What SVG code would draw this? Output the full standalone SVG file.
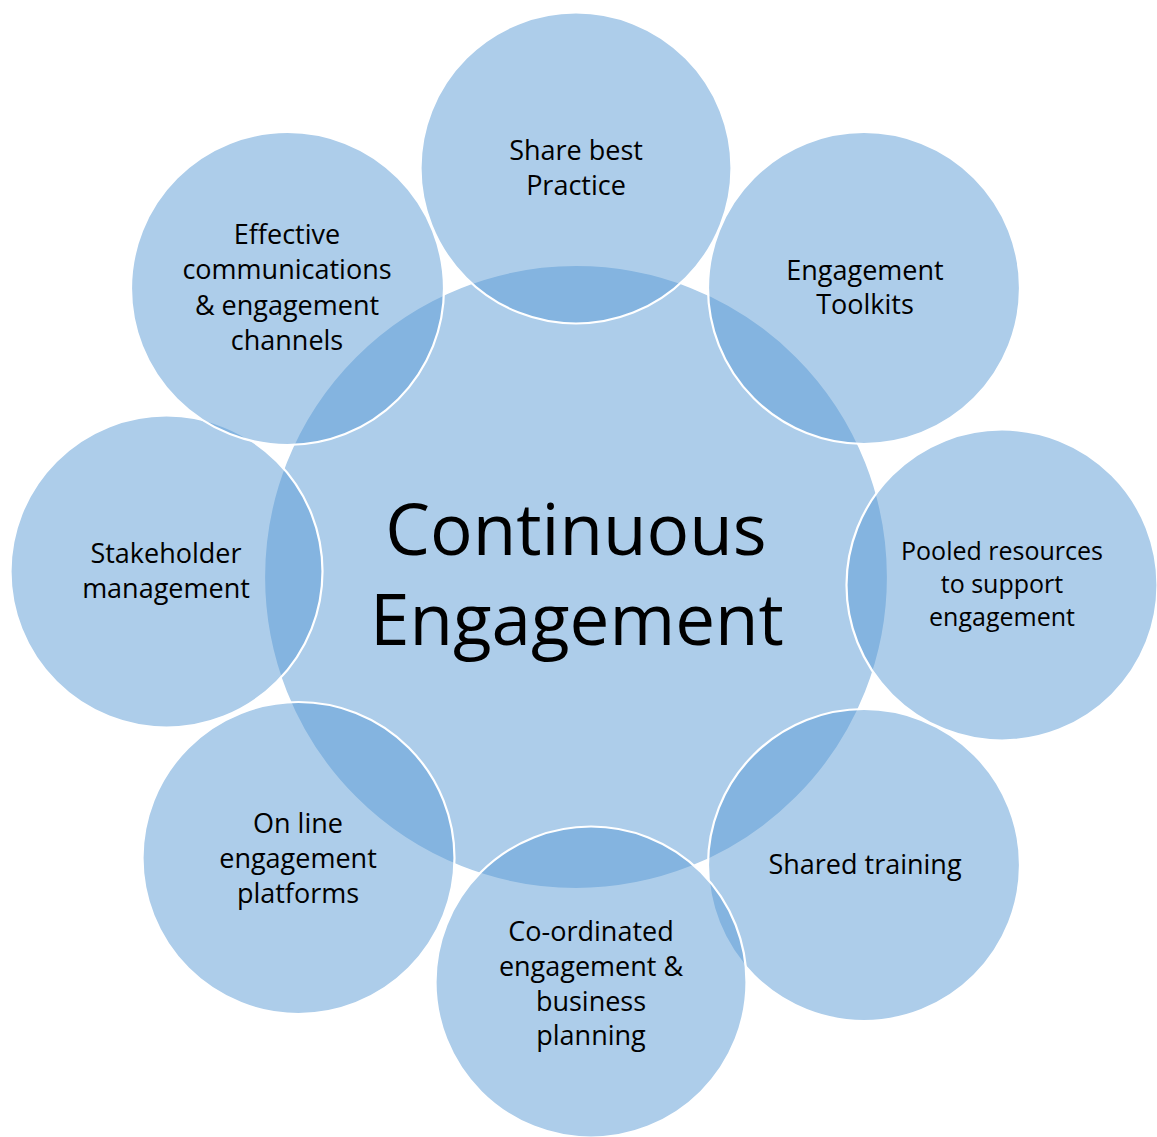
<svg xmlns="http://www.w3.org/2000/svg" width="1157" height="1137" viewBox="0 0 1157 1137">
  <style>
    .c { fill: #5B9BD5; fill-opacity: 0.5; stroke: #FFFFFF; stroke-width: 2.2; }
    .t { font-family: "Open Sans", "Noto Sans", sans-serif; font-size: 27px; fill: #000000; text-anchor: middle; }
    .big { font-family: "Open Sans", "Noto Sans", sans-serif; font-size: 71px; fill: #000000; text-anchor: middle; }
  </style>
  <rect width="1157" height="1137" fill="#FFFFFF"/>
  <g id="center">
    <circle class="c" cx="576" cy="577" r="312"/>
    <text class="big" x="576" y="555">Continuous</text>
    <text class="big" x="577" y="645">Engagement</text>
  </g>
  <g id="share-best-practice">
    <circle class="c" cx="576" cy="168" r="155.5"/>
    <text class="t" x="576" y="160">Share best</text>
    <text class="t" x="576" y="195">Practice</text>
  </g>
  <g id="engagement-toolkits">
    <circle class="c" cx="864" cy="288" r="156"/>
    <text class="t" x="865" y="280">Engagement</text>
    <text class="t" x="865" y="314">Toolkits</text>
  </g>
  <g id="pooled-resources">
    <circle class="c" cx="1002" cy="585" r="155.5"/>
    <text class="t" x="1002" y="560" style="font-size:25px">Pooled resources</text>
    <text class="t" x="1002" y="593" style="font-size:25px">to support</text>
    <text class="t" x="1002" y="626" style="font-size:25px">engagement</text>
  </g>
  <g id="shared-training">
    <circle class="c" cx="864" cy="865" r="156"/>
    <text class="t" x="865" y="874">Shared training</text>
  </g>
  <g id="co-ordinated">
    <circle class="c" cx="591" cy="982" r="155.5"/>
    <text class="t" x="591" y="941">Co-ordinated</text>
    <text class="t" x="591" y="976">engagement &amp;</text>
    <text class="t" x="591" y="1011">business</text>
    <text class="t" x="591" y="1045">planning</text>
  </g>
  <g id="on-line">
    <circle class="c" cx="298.5" cy="858" r="156"/>
    <text class="t" x="298" y="833">On line</text>
    <text class="t" x="298" y="868">engagement</text>
    <text class="t" x="298" y="903">platforms</text>
  </g>
  <g id="stakeholder">
    <circle class="c" cx="166.5" cy="571.5" r="156"/>
    <text class="t" x="166" y="563">Stakeholder</text>
    <text class="t" x="166" y="598">management</text>
  </g>
  <g id="effective-communications">
    <circle class="c" cx="287.5" cy="288.5" r="156.5"/>
    <text class="t" x="287" y="244">Effective</text>
    <text class="t" x="287" y="279">communications</text>
    <text class="t" x="287" y="315">&amp; engagement</text>
    <text class="t" x="287" y="350">channels</text>
  </g>
  <g id="connectors"/>
</svg>
